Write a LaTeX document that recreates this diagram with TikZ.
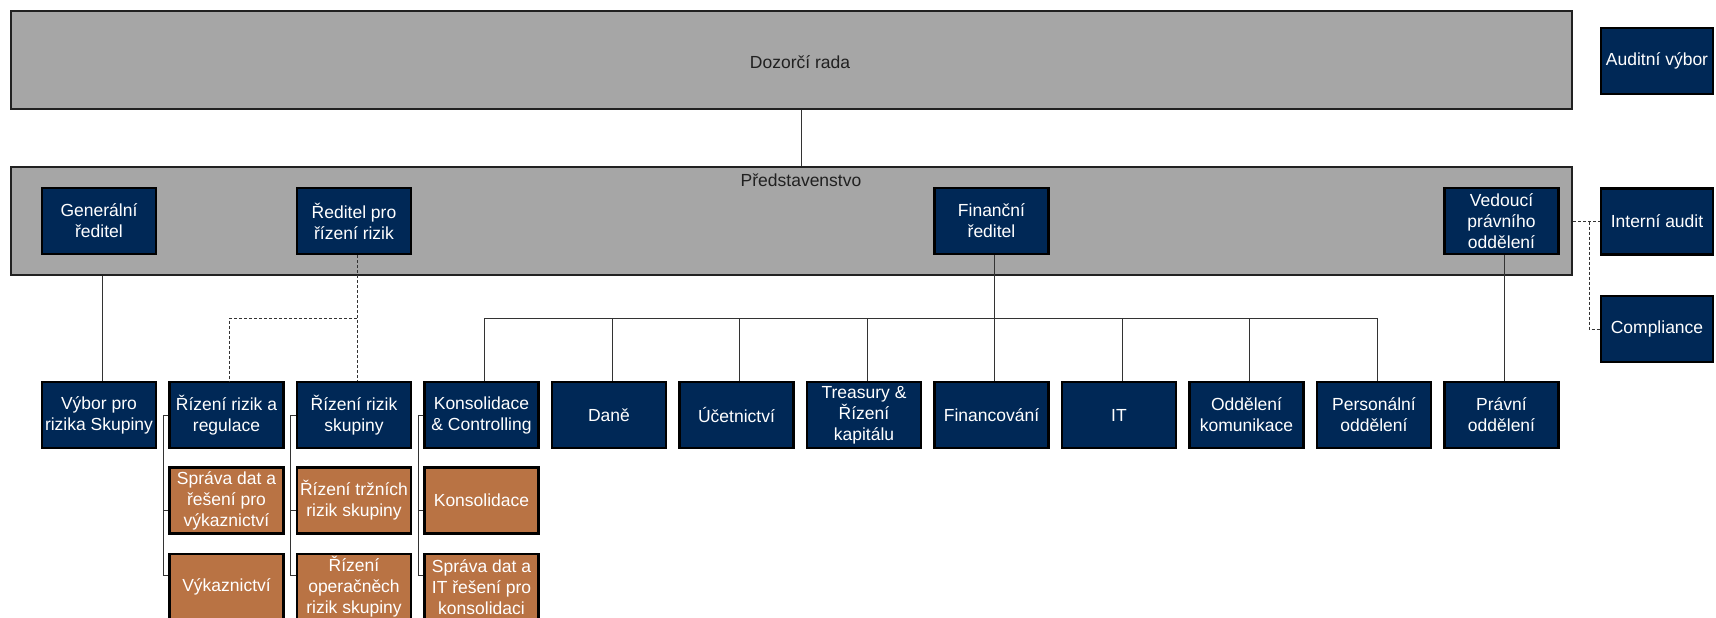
\documentclass[tikz,border=0pt]{standalone}
\usepackage{fontspec}
\setmainfont{Liberation Sans}
\usetikzlibrary{calc}
\definecolor{board}{RGB}{166,166,166}
\definecolor{navy}{RGB}{0,40,86}
\definecolor{copper}{RGB}{185,115,68}
\definecolor{ink}{gray}{0.13}
\definecolor{wire}{gray}{0.20}

\begin{document}
\begin{tikzpicture}[x=1pt, y=-1pt, font=\fontsize{17.5}{21}\selectfont,
  unit/.style={draw=black, line width=2.2pt, fill=navy, text=white, align=center,
    minimum width=114pt, minimum height=66pt, inner sep=0pt},
  subunit/.style={unit, fill=copper},
  sideunit/.style={unit, minimum width=112pt},
  panel/.style={draw=ink, line width=2pt, fill=board, minimum width=1561pt, inner sep=0pt},
  link/.style={draw=wire, line width=1pt},
  dotlink/.style={link, dash pattern=on 3pt off 2pt}]
\useasboundingbox (0,0) rectangle (1716,618);
\def\colx#1{99+127.5*#1}
\def\rowa{415}\def\rowb{500.5}\def\rowc{587}

% boards
\node[panel, minimum height=98pt] (dozorci) at (791.5,60) {};
\node[text=ink] (dozlabel) at (800,62) {Dozorčí rada};
\node[panel, minimum height=108pt] (predst) at (791.5,221) {};
\node[text=ink] (predlabel) at (801,180) {Představenstvo};

% board members
\node[unit] (genr) at ({\colx{0}},221) {Generální\\ředitel};
\node[unit] (reditel) at ({\colx{2}},221) {Ředitel pro\\řízení rizik};
\node[unit] (finr) at ({\colx{7}},221) {Finanční\\ředitel};
\node[unit] (vedouci) at ({\colx{11}},221) {Vedoucí\\právního\\oddělení};

% side units
\node[sideunit] (avybor) at (1657,61) {Auditní výbor};
\node[sideunit] (audit) at (1657,221.5) {Interní audit};
\node[sideunit] (compl) at (1657,329) {Compliance};

% departments
\node[unit] (vybor) at ({\colx{0}},\rowa) {Výbor pro\\rizika Skupiny};
\node[unit] (rizreg) at ({\colx{1}},\rowa) {Řízení rizik a\\regulace};
\node[unit] (rizsk) at ({\colx{2}},\rowa) {Řízení rizik\\skupiny};
\node[unit] (kons) at ({\colx{3}},\rowa) {Konsolidace\\\& Controlling};
\node[unit] (dane) at ({\colx{4}},\rowa) {Daně};
\node[unit] (ucet) at ({\colx{5}},\rowa) {Účetnictví};
\node[unit] (treas) at ({\colx{6}},\rowa) {Treasury \&\\Řízení\\kapitálu};
\node[unit] (financ) at ({\colx{7}},\rowa) {Financování};
\node[unit] (itd) at ({\colx{8}},\rowa) {IT};
\node[unit] (komu) at ({\colx{9}},\rowa) {Oddělení\\komunikace};
\node[unit] (pers) at ({\colx{10}},\rowa) {Personální\\oddělení};
\node[unit] (pravni) at ({\colx{11}},\rowa) {Právní\\oddělení};

% sub-departments
\node[subunit] (sprava) at ({\colx{1}},\rowb) {Správa dat a\\řešení pro\\výkaznictví};
\node[subunit] (trzni) at ({\colx{2}},\rowb) {Řízení tržních\\rizik skupiny};
\node[subunit] (konsol) at ({\colx{3}},\rowb) {Konsolidace};
\node[subunit] (vykaz) at ({\colx{1}},\rowc) {Výkaznictví};
\node[subunit] (opera) at ({\colx{2}},\rowc) {Řízení\\operačněch\\rizik skupiny};
\node[subunit] (itkons) at ({\colx{3}},\rowc) {Správa dat a\\IT řešení pro\\konsolidaci};

% reporting lines (drawn a little right of the box centres)
\coordinate (bus) at (0,318);
\draw[link] (dozorci.south -| predlabel) -- (predst.north -| predlabel);
\draw[link] ([xshift=3pt]genr.south |- predst.south) -- ([xshift=3pt]vybor.north);
\draw[dotlink] ([xshift=3pt]reditel.south) -- ([xshift=3pt]rizsk.north);
\draw[dotlink] ([xshift=3pt]reditel.south |- bus) -| ([xshift=3pt]rizreg.north);
\draw[link] ([xshift=3pt]finr.south) -- ([xshift=3pt]financ.north);
\draw[link] ([xshift=3pt]kons.north |- bus) -- ([xshift=3pt]pers.north |- bus);
\foreach \n in {kons,dane,ucet,treas,itd,komu,pers}
  \draw[link] ([xshift=3pt]\n.north) -- ([xshift=3pt]\n.north |- bus);
\draw[link] ([xshift=3pt]vedouci.south) -- ([xshift=3pt]pravni.north);
\draw[dotlink] (predst.east |- audit) -- (audit.west);
\draw[dotlink] ($(predst.east |- audit)+(16,0)$) |- (compl.west);

% brackets to sub-departments
\foreach \p/\a/\b in {rizreg/sprava/vykaz, rizsk/trzni/opera, kons/konsol/itkons} {
  \draw[link] (\p.west) -- ++(-5,0) |- ([yshift=-10pt]\a.west);
  \draw[link] (\p.west) -- ++(-5,0) |- ([yshift=12pt]\b.west);
}
\end{tikzpicture}
\end{document}
